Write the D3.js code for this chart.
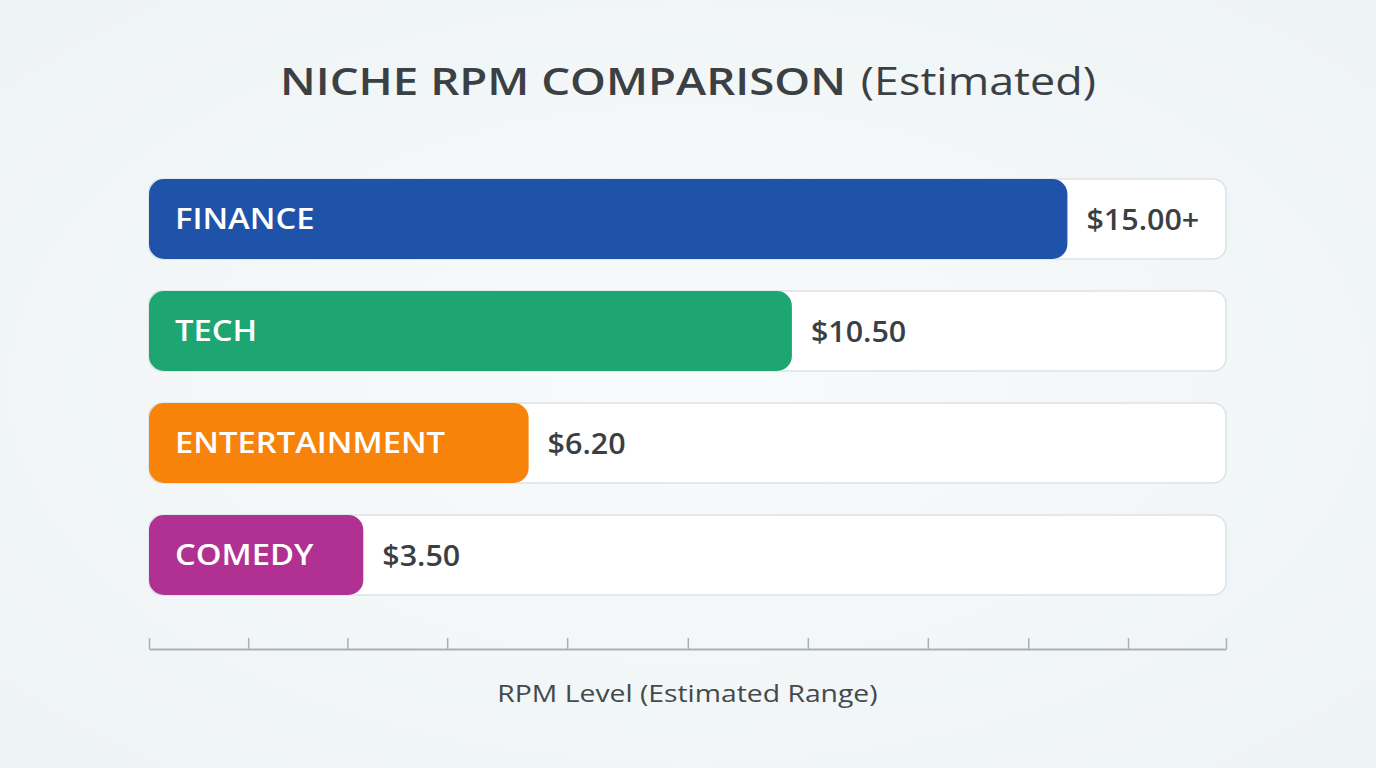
<!DOCTYPE html>
<html><head><meta charset="utf-8">
<script src="https://cdn.jsdelivr.net/npm/d3@7"></script>
<style>
html,body{margin:0;padding:0;background:#f1f6f7;}
svg{display:block;}
text{font-family:"Open Sans","Noto Sans",sans-serif;}
</style></head>
<body>
<svg id="chart" width="1376" height="768"></svg>
<script>
const categories = ["FINANCE","TECH","ENTERTAINMENT","COMEDY"];
const values = [15.0, 10.5, 6.2, 3.5];
const valueLabels = ["$15.00+","$10.50","$6.20","$3.50"];
const colors = ["#1f53a9","#1da672","#f8830b","#b03192"];
const axisTicks = [0,1.62,3.24,4.87,6.83,8.80,10.76,12.72,14.36,15.99,17.59];
const titleMain = "NICHE RPM COMPARISON";
const titleSub = "(Estimated)";
const axisTitle = "RPM Level (Estimated Range)";

const W = 1376, H = 768;
const svg = d3.select("#chart");

// horizontal stretch to imitate a wide geometric face
function stretch(sel, k){
  sel.each(function(){
    const w = this.getComputedTextLength();
    d3.select(this).attr("textLength", w*k).attr("lengthAdjust","spacingAndGlyphs");
  });
}

const defs = svg.append("defs");
const bg = defs.append("radialGradient").attr("id","bg").attr("cx","50%").attr("cy","50%").attr("r","70%");
bg.append("stop").attr("offset","0%").attr("stop-color","#f8fbfb");
bg.append("stop").attr("offset","100%").attr("stop-color","#eef3f5");
svg.append("rect").attr("width",W).attr("height",H).attr("fill","url(#bg)");

const x = d3.scaleLinear().domain([0,17.59]).range([149,1226]);
const y = d3.scaleBand().domain(categories).range([179,595]).paddingInner(0.2857).paddingOuter(0);

// title
const tg = svg.append("g");
const t1 = tg.append("text").attr("y",95).attr("fill","#3b4045").style("font-size","38px")
  .attr("font-weight",600).text(titleMain);
stretch(t1, 1.2);
const t2 = tg.append("text").attr("y",95).attr("fill","#3b4045").style("font-size","38px")
  .attr("font-weight",400).text(titleSub);
stretch(t2, 1.18);
const w1 = +t1.attr("textLength"), w2 = +t2.attr("textLength"), gap = 15;
const tx0 = W/2 - (w1+gap+w2)/2;
t1.attr("x", tx0);
t2.attr("x", tx0 + w1 + gap);

const rows = svg.append("g").selectAll("g").data(categories).join("g")
  .attr("transform",d=>`translate(0,${y(d)})`);

rows.append("rect").attr("x",x(0)).attr("width",x.range()[1]-x(0)).attr("height",y.bandwidth())
  .attr("rx",13).attr("fill","#ffffff").attr("stroke","#dbe2e7").attr("stroke-width",1.5);

rows.append("rect").attr("x",x(0)).attr("width",(d,i)=>x(values[i])-x(0)).attr("height",y.bandwidth())
  .attr("rx",15).attr("fill",(d,i)=>colors[i]);

const lab = rows.append("text").attr("x",x(0)+26).attr("y",y.bandwidth()/2+10)
  .attr("fill","#ffffff").style("font-size","28px").attr("font-weight",600).text(d=>d);
stretch(lab, 1.17);

const val = rows.append("text").attr("x",(d,i)=>x(values[i])+19).attr("y",y.bandwidth()/2+11)
  .attr("fill","#3a3f44").style("font-size","29px").attr("font-weight",600).text((d,i)=>valueLabels[i]);
stretch(val, 1.05);

// axis
const axis = d3.axisBottom(x).tickValues(axisTicks).tickSize(-11).tickSizeOuter(0).tickFormat("");
const ag = svg.append("g").attr("transform","translate(0,649)").call(axis);
ag.select(".domain").attr("stroke","#aab1b6").attr("stroke-width",2);
ag.selectAll(".tick line").attr("stroke","#aab1b6").attr("stroke-width",1.5);

const at = svg.append("text").attr("x",(x.range()[0]+x.range()[1])/2).attr("y",702).attr("text-anchor","middle")
  .attr("fill","#44494e").style("font-size","24px").text(axisTitle);
stretch(at, 1.18);
</script>
</body></html>
